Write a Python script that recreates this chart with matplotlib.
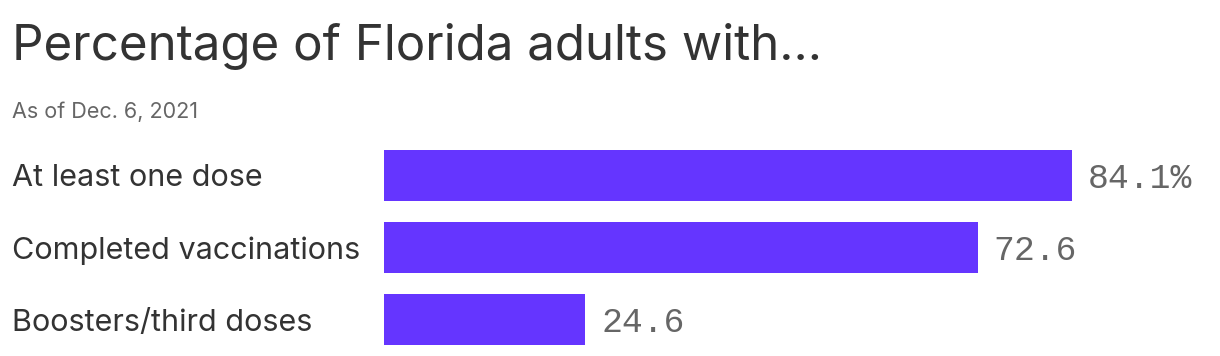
import matplotlib.pyplot as plt

categories = ["At least one dose", "Completed vaccinations", "Boosters/third doses"]
values = [84.1, 72.6, 24.6]
value_labels = ["84.1%", "72.6", "24.6"]

bar_color = "#6535ff"
text_color = "#333333"
gray = "#666666"

fig = plt.figure(figsize=(12.2, 3.56), dpi=100)
ax = fig.add_axes([384 / 1220, 0.5 / 356, 1 - 384 / 1220, 216 / 356])

ypos = range(len(categories))
ax.barh(ypos, values, height=51 / 72, color=bar_color)
ax.set_xlim(0, 836 / 8.18)
ax.set_ylim(2.5, -0.5)
ax.axis("off")

for y, v, lab, cat in zip(ypos, values, value_labels, categories):
    ax.annotate(lab, (v, y), xytext=(16 * 0.72, 0), textcoords="offset points",
                va="center_baseline", ha="left", fontsize=25, color=gray,
                family="Liberation Mono")
    ax.annotate(cat, (0, y), xycoords=("figure pixels", "data"),
                xytext=(12 * 0.72, 0), textcoords="offset points",
                va="center_baseline", ha="left", fontsize=22, color=text_color,
                family="Inter")

fig.text(12 / 1220, 1 - 47 / 356, "Percentage of Florida adults with...",
         fontsize=35.5, color=text_color, family="Inter", va="center", ha="left")
fig.text(12 / 1220, 1 - 112 / 356, "As of Dec. 6, 2021",
         fontsize=15.5, color=gray, family="Inter", va="center", ha="left")

fig.savefig("out.png", dpi=100)
